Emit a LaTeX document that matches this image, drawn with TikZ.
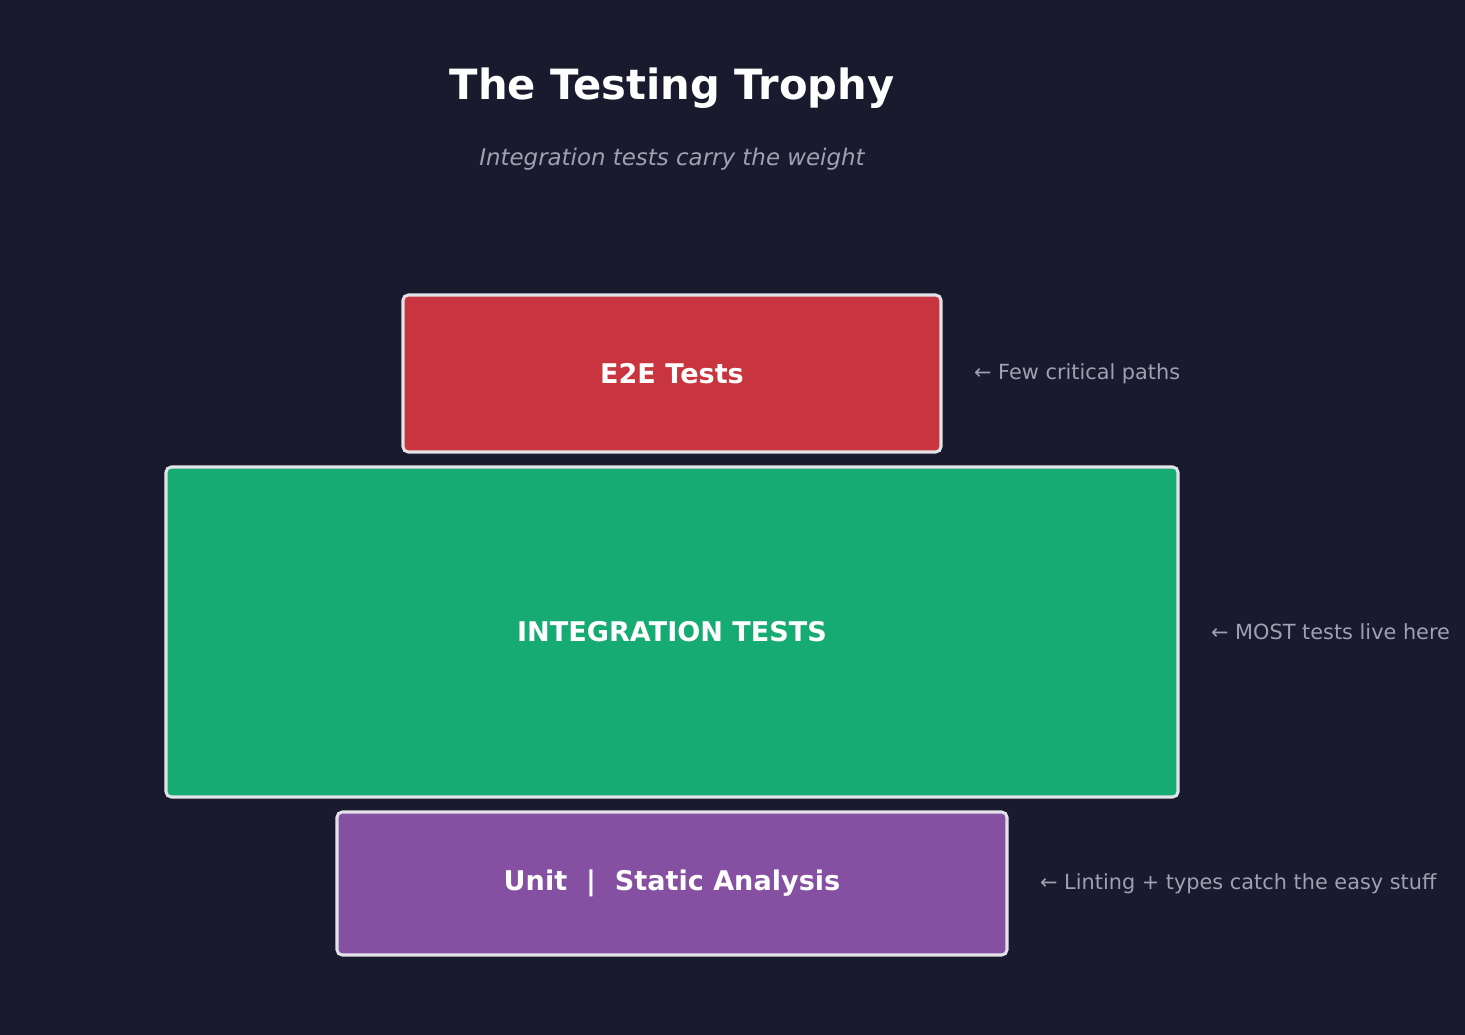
\documentclass[tikz,border=0pt]{standalone}
\usepackage{fontspec}
\setmainfont{DejaVu Sans}
\usepackage{tikz}
\usetikzlibrary{positioning}

\definecolor{bgnavy}{HTML}{1A1A2E}
\definecolor{e2ered}{HTML}{C9353F}
\definecolor{integgreen}{HTML}{17AB74}
\definecolor{unitpurple}{HTML}{8650A2}
\definecolor{edgegray}{HTML}{E2E2E8}
\definecolor{notegray}{HTML}{A0A0B2}

\tikzset{
  layer/.style={draw=edgegray, line width=1.45pt, rounded corners=2.5pt,
    text=white, font=\bfseries\fontsize{13}{15}\selectfont, inner sep=0pt},
  note/.style={anchor=west, inner sep=0pt, text=notegray,
    font=\fontsize{10}{12}\selectfont}
}

\begin{document}
\begin{tikzpicture}[x=0.48pt, y=-0.48pt]
\useasboundingbox[fill=bgnavy] (0,0) rectangle (1465,1035);

% title
\node (title) at (672,88) [text=white, font=\bfseries\fontsize{20}{24}\selectfont] {The Testing Trophy};
\node (subtitle) at (672,159) [text=notegray, font=\itshape\fontsize{11}{13}\selectfont] {Integration tests carry the weight};

% trophy layers
\node (e2e)   at (672,373.5) [layer, fill=e2ered, minimum width=538*0.48pt, minimum height=157*0.48pt] {E2E Tests};
\node (integ) at (672,632)   [layer, fill=integgreen, minimum width=1012*0.48pt, minimum height=330*0.48pt] {INTEGRATION TESTS};
\node (unit)  at (672,883.5) [layer, fill=unitpurple, minimum width=670*0.48pt, minimum height=143*0.48pt] {Unit\ \ |\ \ Static Analysis};

% side notes
\node (e2enote)   [note, right=15pt of e2e.east]   {← Few critical paths};
\node (integnote) [note, right=15pt of integ.east] {← MOST tests live here};
\node (unitnote)  [note, right=15pt of unit.east]  {← Linting + types catch the easy stuff};
\end{tikzpicture}
\end{document}
